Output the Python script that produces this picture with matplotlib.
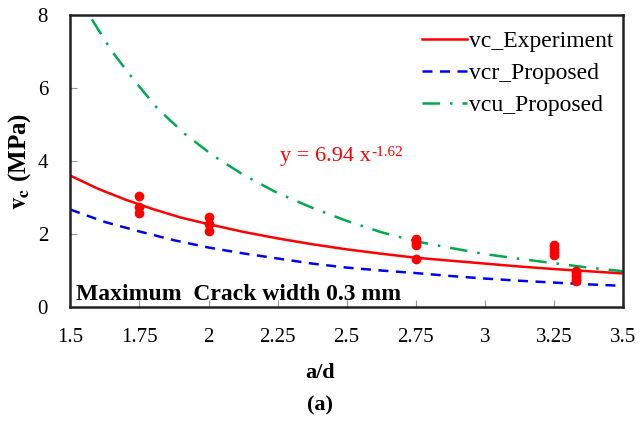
import matplotlib.pyplot as plt

plt.rcParams['font.family'] = ['Liberation Serif', 'DejaVu Serif']
plt.rcParams['mathtext.fontset'] = 'stix'

# Ensayos: relación a/d y resistencia a cortante medida (MPa)
ad_ensayo = [1.75, 1.75, 1.75, 2.0, 2.0, 2.0,
             2.75, 2.75, 2.75, 2.75,
             3.25, 3.25, 3.25, 3.25,
             3.33, 3.33, 3.33, 3.33, 3.33]
vc_ensayo = [3.05, 2.75, 2.58, 2.47, 2.28, 2.09,
             1.85, 1.78, 1.70, 1.32,
             1.70, 1.60, 1.50, 1.42,
             1.00, 0.92, 0.85, 0.77, 0.70]

# Curva de ajuste y = 6.94 x^-1.62
ad_ajuste = [1.5, 1.6, 1.7, 1.8, 1.9, 2.0, 2.125, 2.25, 2.375, 2.5,
             2.625, 2.75, 2.875, 3.0, 3.125, 3.25, 3.375, 3.5]
vc_ajuste = [3.60, 3.24, 2.94, 2.68, 2.45, 2.27, 2.06, 1.88, 1.72, 1.58,
             1.46, 1.35, 1.27, 1.19, 1.11, 1.04, 0.98, 0.92]

# Propuestas vcr y vcu
ad_vcr = [1.5, 1.625, 1.75, 1.875, 2.0, 2.125, 2.25, 2.375, 2.5,
          2.625, 2.75, 2.875, 3.0, 3.125, 3.25, 3.375, 3.5]
vcr = [2.67, 2.33, 2.07, 1.83, 1.63, 1.47, 1.33, 1.19, 1.08,
       1.00, 0.93, 0.85, 0.78, 0.72, 0.67, 0.62, 0.58]
ad_vcu = [1.578, 1.65, 1.73, 1.815, 1.913, 2.018, 2.129, 2.248, 2.375, 2.5,
          2.625, 2.75, 2.875, 3.0, 3.125, 3.25, 3.375, 3.5]
vcu = [7.88, 7.01, 6.22, 5.44, 4.75, 4.14, 3.61, 3.13, 2.72, 2.36,
       2.05, 1.80, 1.62, 1.45, 1.32, 1.20, 1.08, 0.98]

xticks = [1.5, 1.75, 2.0, 2.25, 2.5, 2.75, 3.0, 3.25, 3.5]
xtick_labels = ['1.5', '1.75', '2', '2.25', '2.5', '2.75', '3', '3.25', '3.5']
yticks = [0, 2, 4, 6, 8]

fig = plt.figure(figsize=(6.41, 4.25), dpi=100)
ax = fig.add_axes([0.1097, 0.2776, 0.8623, 0.6871])

ax.plot(ad_ajuste, vc_ajuste, color='#ff0000', lw=1.8, label='vc_Experiment')
ax.plot(ad_vcr, vcr, color='#0000ff', lw=1.8, ls=(0, (4, 3)), label='vcr_Proposed')
ax.plot(ad_vcu, vcu, color='#00a94f', lw=1.8, ls=(0, (7, 4, 1, 4)), label='vcu_Proposed')
ax.plot(ad_ensayo, vc_ensayo, 'o', color='#ff0000', ms=6, zorder=3)

ax.set_xlim(1.5, 3.5)
ax.set_ylim(0, 8)
ax.set_xticks(xticks)
ax.set_xticklabels(xtick_labels)
ax.set_yticks(yticks)
ax.tick_params(direction='in', length=5, color='#999999', labelsize=15)
ax.tick_params(axis='x', pad=15)
ax.tick_params(axis='y', pad=16)
for lado in ['left', 'top', 'right', 'bottom']:
    ax.spines[lado].set_linewidth(1.8)
    ax.spines[lado].set_color('#222222')

ax.legend(loc='upper left', bbox_to_anchor=(0.636, 0.947), frameon=False,
          fontsize=17, handlelength=1.9, handletextpad=0.1, labelspacing=0.45,
          borderpad=0, borderaxespad=0)

# Ecuación del ajuste con exponente como superíndice
ecuacion = ax.text(2.26, 4.0, 'y = 6.94 x', color='#ff0000', fontsize=16)
ax.annotate('-1.62', xy=(1.0, 1.05), xycoords=ecuacion, color='#ff0000',
            fontsize=11, ha='left', va='top')
ax.text(1.52, 0.2, 'Maximum  Crack width 0.3 mm', fontsize=17, fontweight='bold')

ax.set_ylabel(r'$\mathbf{v_c}$ (MPa)', fontsize=18, fontweight='bold')
ax.yaxis.set_label_coords(-0.068, 0.5)
fig.text(0.5, 0.122, 'a/d', fontsize=16, fontweight='bold', ha='center', va='center')
fig.text(0.5, 0.047, '(a)', fontsize=16, fontweight='bold', ha='center', va='center')

plt.savefig('out.png', dpi=100)
